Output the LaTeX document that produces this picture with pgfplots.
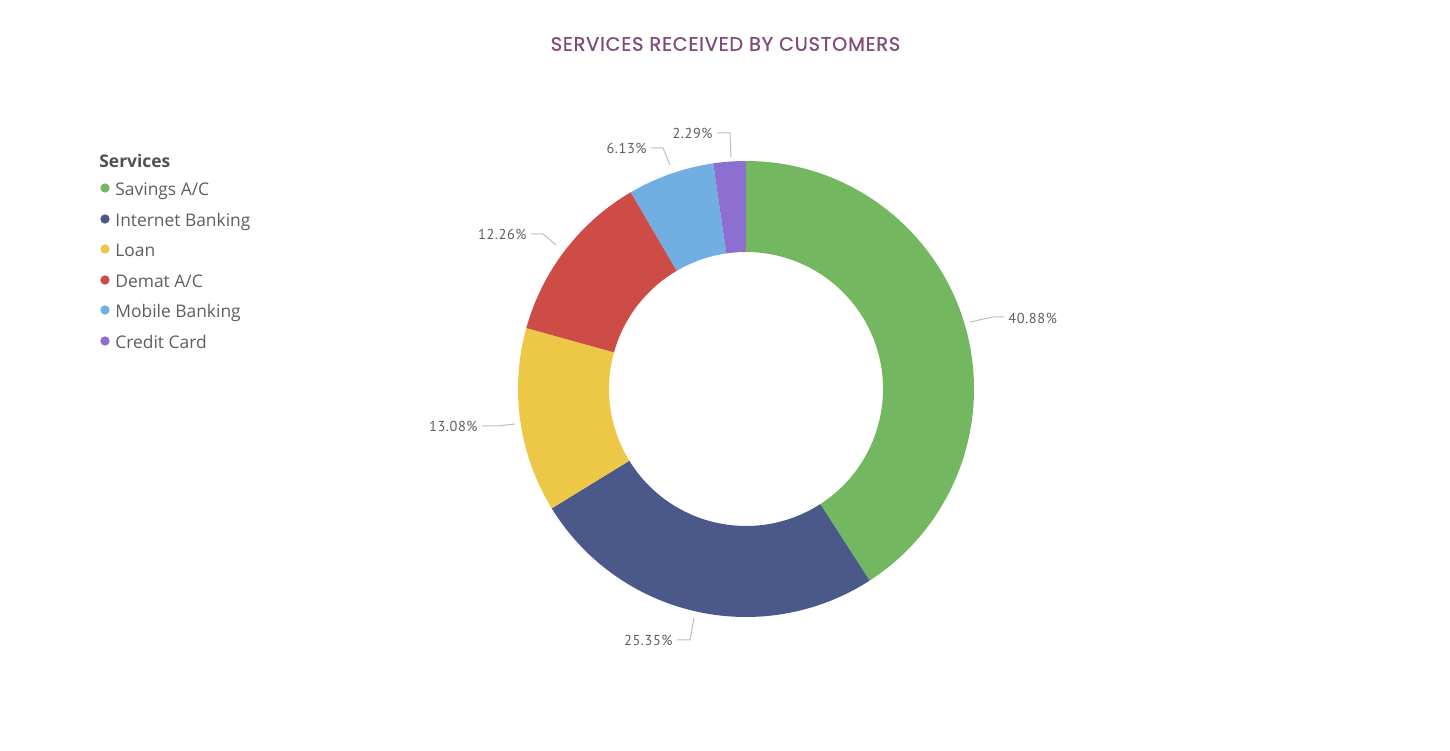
\documentclass[border=0pt]{standalone}
\usepackage{pgfplots}
\pgfplotsset{compat=1.18}
\usepackage{pgfplotstable}
\usepackage{fontspec}
\setmainfont{Open Sans}
\newfontfamily\titlefont[LetterSpace=4,FakeBold=0.8]{Poppins}
\newfontfamily\labelfont[LetterSpace=4]{PT Sans}
\definecolor{c0}{HTML}{73B761}
\definecolor{c1}{HTML}{4A588A}
\definecolor{c2}{HTML}{ECC846}
\definecolor{c3}{HTML}{CD4C46}
\definecolor{c4}{HTML}{71AFE2}
\definecolor{c5}{HTML}{8D6FD1}
\definecolor{titlecol}{HTML}{7F4B7A}
\definecolor{txt}{HTML}{605E5C}
\definecolor{lead}{HTML}{BDBDBD}
\pgfplotstableread[col sep=comma,row sep=\\]{
service,value,legy\\
Savings A/C,40.88,562\\
Internet Banking,25.35,531\\
Loan,13.08,501\\
Demat A/C,12.26,470\\
Mobile Banking,6.13,440\\
Credit Card,2.29,409\\
}\data
\begin{document}
\begin{tikzpicture}
\begin{axis}[width=725pt, height=375pt, scale only axis,
  xmin=0, xmax=1450, ymin=0, ymax=750, hide axis, clip=false]
\def\startang{90}
\pgfplotsforeachungrouped \i in {0,...,5}{%
  \pgfplotstablegetelem{\i}{value}\of\data
  \pgfmathsetmacro\endang{\startang-3.6*\pgfplotsretval}%
  \edef\cmd{\noexpand\fill[c\i] (axis cs:746,361) ++(\startang:114pt)
    arc[start angle=\startang, end angle=\endang, radius=114pt]
    -- ++(\endang:-45.5pt)
    arc[start angle=\endang, end angle=\startang, radius=68.5pt] -- cycle;}%
  \cmd
  \global\let\startang\endang
  \pgfplotstablegetelem{\i}{legy}\of\data
  \let\ly\pgfplotsretval
  \pgfplotstablegetelem{\i}{service}\of\data
  \let\lname\pgfplotsretval
  \edef\cmd{\noexpand\addplot[only marks, mark=*, mark size=2.1pt, c\i, draw=none] coordinates {(105,\ly)};
    \noexpand\node[anchor=base west, inner sep=0, text=txt, font=\noexpand\fontsize{8.7}{11}\noexpand\selectfont] at (axis cs:115,\ly-8) {\lname};}%
  \cmd
}
\node[anchor=base west, inner sep=0, text=txt!85!black, font=\fontsize{8.7}{11}\selectfont\bfseries] at (axis cs:99,582) {Services};
\node[inner sep=0, text=titlecol, font=\titlefont\fontsize{9.7}{11}\selectfont] at (axis cs:725.5,706) {SERVICES RECEIVED BY CUSTOMERS};
% leader lines
\begin{scope}[lead, line width=0.5pt]
\draw (axis cs:970,428) -- (axis cs:993,433) -- (axis cs:1004,433);
\draw (axis cs:731,593) -- (axis cs:730,617) -- (axis cs:717,617);
\draw (axis cs:670,585) -- (axis cs:663,602) -- (axis cs:651,602);
\draw (axis cs:556,505) -- (axis cs:543,516) -- (axis cs:531,516);
\draw (axis cs:515,326) -- (axis cs:497,324) -- (axis cs:482,324);
\draw (axis cs:694,132) -- (axis cs:690,110) -- (axis cs:677,110);
\end{scope}
\begin{scope}[every node/.style={inner sep=0, text=txt, font=\labelfont\fontsize{7.2}{8}\selectfont}]
\node[anchor=west] at (axis cs:1008,432) {40.88\%};
\node[anchor=east] at (axis cs:713,617) {2.29\%};
\node[anchor=east] at (axis cs:647,602) {6.13\%};
\node[anchor=east] at (axis cs:527,516) {12.26\%};
\node[anchor=east] at (axis cs:478,324) {13.08\%};
\node[anchor=east] at (axis cs:673,110) {25.35\%};
\end{scope}
\end{axis}
\pgfresetboundingbox
\path[use as bounding box] (current axis.south west) rectangle (current axis.north east);
\end{tikzpicture}
\end{document}
